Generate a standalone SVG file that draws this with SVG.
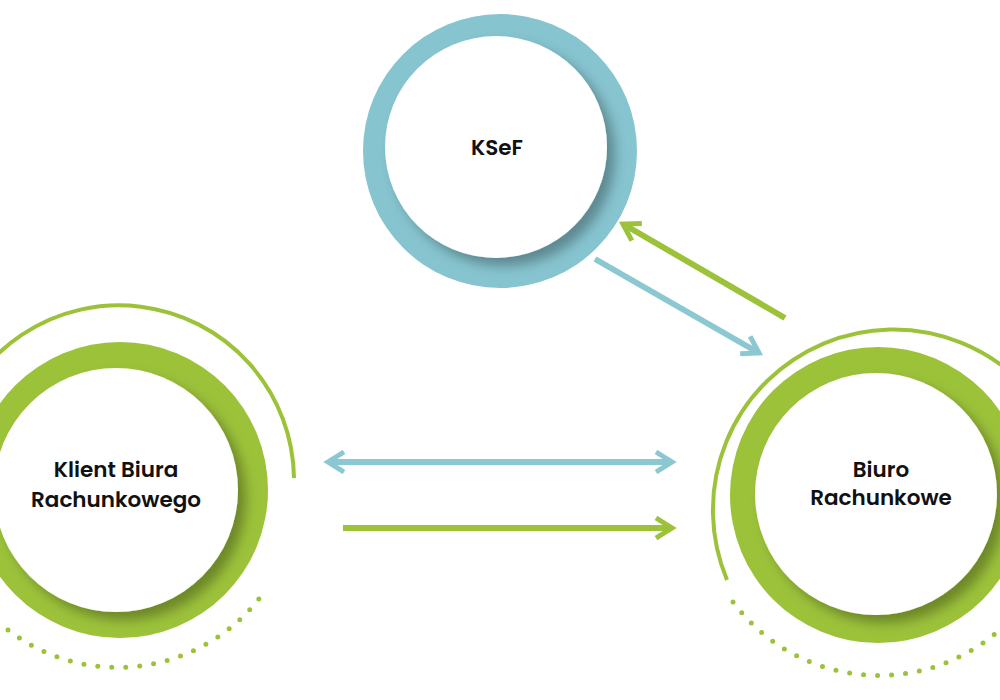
<svg xmlns="http://www.w3.org/2000/svg" width="1000" height="700" viewBox="0 0 1000 700">
<style>
.lbl{font-family:"Poppins","Open Sans","Liberation Sans",sans-serif;font-weight:600;font-size:21.5px;fill:#111;text-anchor:middle}
.g{fill:#9cc23a}.b{fill:#86c4cf}.w{fill:#fff;filter:url(#sh)}
.thin{fill:none;stroke:#9cc23a;stroke-width:4}
.dots{fill:none;stroke:#9cc23a;stroke-width:5;stroke-linecap:round;stroke-dasharray:0 14}
.ag{stroke:#9cc23a;stroke-width:6;fill:none}
.ab{stroke:#8cc8d2;stroke-width:6;fill:none}
</style>
<defs>
<filter id="sh" x="-30%" y="-30%" width="160%" height="160%"><feDropShadow dx="8" dy="8" stdDeviation="6" flood-color="#000" flood-opacity="0.3"/></filter>
<marker id="mg" viewBox="0 0 12 12" refX="9" refY="6" markerWidth="4" markerHeight="4" orient="auto-start-reverse" markerUnits="strokeWidth"><path d="M1,1 L9,6 L1,11" fill="none" stroke="#9cc23a" stroke-width="2.5"/></marker>
<marker id="mb" viewBox="0 0 12 12" refX="9" refY="6" markerWidth="4" markerHeight="4" orient="auto-start-reverse" markerUnits="strokeWidth"><path d="M1,1 L9,6 L1,11" fill="none" stroke="#8cc8d2" stroke-width="2.5"/></marker>
</defs>
<rect width="1000" height="700" fill="#fff"/>
<g id="ksef">
<circle class="b" cx="500" cy="151" r="137"/>
<circle class="w" cx="496" cy="147" r="111"/>
<text class="lbl" x="497" y="155">KSeF</text>
</g>
<g id="klient">
<path class="thin" d="M-50,435 A175,175 0 0 1 294,478"/>
<path class="dots" d="M8,630 A180,180 0 0 0 262,595"/>
<circle class="g" cx="120" cy="490" r="148"/>
<circle class="w" cx="116" cy="490" r="122"/>
<text class="lbl" x="116" y="477">Klient Biura</text>
<text class="lbl" x="116" y="507">Rachunkowego</text>
</g>
<g id="biuro">
<path class="thin" d="M727,580 A175,175 0 0 1 1060,440"/>
<path class="dots" d="M733,602 A182,182 0 0 0 1010,620"/>
<circle class="g" cx="878" cy="495" r="148"/>
<circle class="w" cx="876" cy="494" r="121"/>
<text class="lbl" x="881" y="477">Biuro</text>
<text class="lbl" x="881" y="505">Rachunkowe</text>
</g>
<g id="connectors">
<line class="ag" x1="785" y1="318" x2="623" y2="224" marker-end="url(#mg)"/>
<line class="ab" x1="595" y1="259" x2="759" y2="353" marker-end="url(#mb)"/>
<line class="ab" x1="328" y1="462" x2="672" y2="462" marker-start="url(#mb)" marker-end="url(#mb)"/>
<line class="ag" x1="343" y1="528" x2="672" y2="528" marker-end="url(#mg)"/>
</g>
</svg>
